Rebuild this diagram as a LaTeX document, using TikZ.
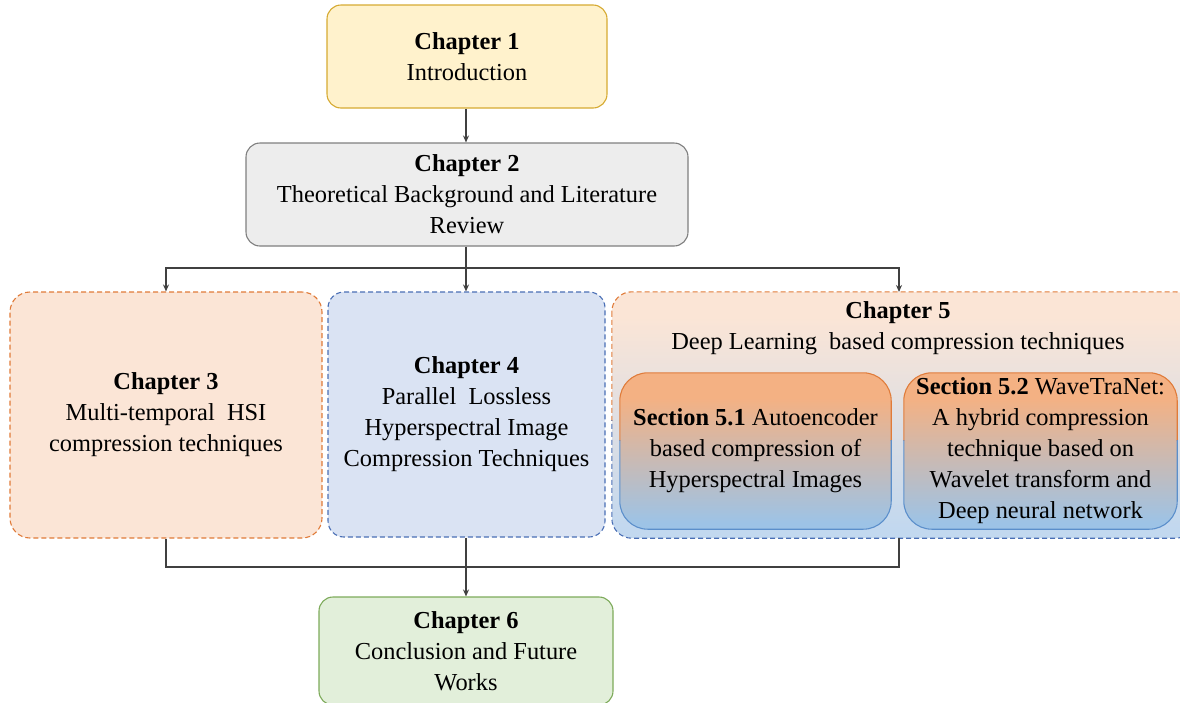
\documentclass[tikz,border=0pt]{standalone}
\usepackage{fontspec}
\setmainfont{Liberation Serif}
\usetikzlibrary{arrows.meta,calc}
\definecolor{yfill}{HTML}{FFF2CC}
\definecolor{ydraw}{HTML}{D6AA32}
\definecolor{gfill}{HTML}{EDEDED}
\definecolor{gdraw}{HTML}{7F7F7F}
\definecolor{ofill}{HTML}{FBE5D6}
\definecolor{odraw}{HTML}{E07B39}
\definecolor{bfill}{HTML}{DAE3F3}
\definecolor{bdraw}{HTML}{4A6FB5}
\definecolor{cfiveb}{HTML}{C2D8EF}
\definecolor{sectop}{HTML}{F4B183}
\definecolor{secbot}{HTML}{9DC3E6}
\definecolor{secblue}{HTML}{5B8FCB}
\definecolor{greenfill}{HTML}{E2EFDA}
\definecolor{greendraw}{HTML}{7DAA5A}
\definecolor{linec}{HTML}{404040}
\pgfdeclareverticalshading{secshade}{100bp}{color(0bp)=(secbot); color(27bp)=(secbot); color(67bp)=(sectop); color(100bp)=(sectop)}
\pgfdeclareverticalshading{cfiveshade}{100bp}{color(0bp)=(cfiveb); color(27bp)=(cfiveb); color(70bp)=(ofill); color(100bp)=(ofill)}
\begin{document}
\begin{tikzpicture}[x=1pt,y=-1pt,
  txt/.style={align=center,inner sep=0pt,font=\fontsize{24.4}{31}\selectfont},
  chbox/.style={txt,line width=1.1pt,rounded corners=14pt},
  dashbox/.style={dash pattern=on 5pt off 3pt,line width=1.1pt},
  conn/.style={draw=linec,line width=1.2pt},
  arr/.style={conn,-{Stealth[length=7pt,width=6pt]}}]
\useasboundingbox (0,0) rectangle (1180,702);
% Chapter 1
\node[chbox,draw=ydraw,fill=yfill,minimum width=280pt,minimum height=103pt] (c1) at (467,56.5)
  {\textbf{Chapter 1}\\Introduction};
% Chapter 2
\node[chbox,draw=gdraw,fill=gfill,minimum width=442pt,minimum height=103pt] (c2) at (467,194.5)
  {\textbf{Chapter 2}\\Theoretical Background and Literature\\Review};
% Chapter 3
\node[chbox,dashbox,rounded corners=20pt,draw=odraw,fill=ofill,minimum width=312pt,minimum height=246pt] (c3) at (166,415)
  {\textbf{Chapter 3}\\Multi-temporal~ HSI\\compression techniques};
% Chapter 4
\node[chbox,dashbox,rounded corners=16pt,draw=bdraw,fill=bfill,minimum width=277pt,minimum height=245pt] (c4) at (466.5,414.5)
  {\textbf{Chapter 4}\\Parallel~ Lossless\\Hyperspectral Image\\Compression Techniques};
% Chapter 5 container
\node[inner sep=0pt,rounded corners=20pt,shading=cfiveshade,minimum width=583pt,minimum height=246pt] (c5) at (903.5,415) {};
\begin{scope}
  \clip (600,280) rectangle (1200,420);
  \draw[dashbox,draw=odraw,rounded corners=20pt] (c5.north west) rectangle (c5.south east);
\end{scope}
\begin{scope}
  \clip (600,420) rectangle (1200,560);
  \draw[dashbox,draw=bdraw,rounded corners=20pt] (c5.north west) rectangle (c5.south east);
\end{scope}
\node[txt] (c5t) at (898,328) {\textbf{Chapter 5}\\Deep Learning~ based compression techniques};
% Sections
\node[txt,rounded corners=28pt,shading=secshade,minimum width=271pt,minimum height=156pt] (s1) at (755.5,451)
  {\textbf{Section 5.1} Autoencoder\\based compression of\\Hyperspectral Images};
\node[txt,rounded corners=28pt,shading=secshade,minimum width=273pt,minimum height=156pt] (s2) at (1040.5,451)
  {\textbf{Section 5.2} WaveTraNet:\\A hybrid compression\\technique based on\\Wavelet transform and\\Deep neural network};
\foreach \n in {s1,s2}{
  \begin{scope}
    \clip (600,360) rectangle (1200,440);
    \draw[line width=1.1pt,draw=odraw,rounded corners=28pt] (\n.north west) rectangle (\n.south east);
  \end{scope}
  \begin{scope}
    \clip (600,440) rectangle (1200,540);
    \draw[line width=1.1pt,draw=secblue,rounded corners=28pt] (\n.north west) rectangle (\n.south east);
  \end{scope}
}
% Chapter 6
\node[chbox,draw=greendraw,fill=greenfill,minimum width=294pt,minimum height=108pt] (c6) at (466,651)
  {\textbf{Chapter 6}\\Conclusion and Future\\Works};
% connectors
\coordinate (j1) at (466,268);
\coordinate (c5in) at (899,292);
\coordinate (c5out) at (899,538);
\coordinate (j2) at (466,567);
\draw[arr] (c1.south -| j1) -- (c2.north -| j1);
\draw[conn] (c2.south -| j1) -- (j1);
\draw[arr] (j1) -| (c3.north);
\draw[arr] (j1) -- (c4.north -| j1);
\draw[arr] (j1) -| (c5in);
\draw[conn] (c3.south) |- (j2);
\draw[conn] (c5out) |- (j2);
\draw[arr] (c4.south -| j1) -- (c6.north -| j1);
\end{tikzpicture}
\end{document}
